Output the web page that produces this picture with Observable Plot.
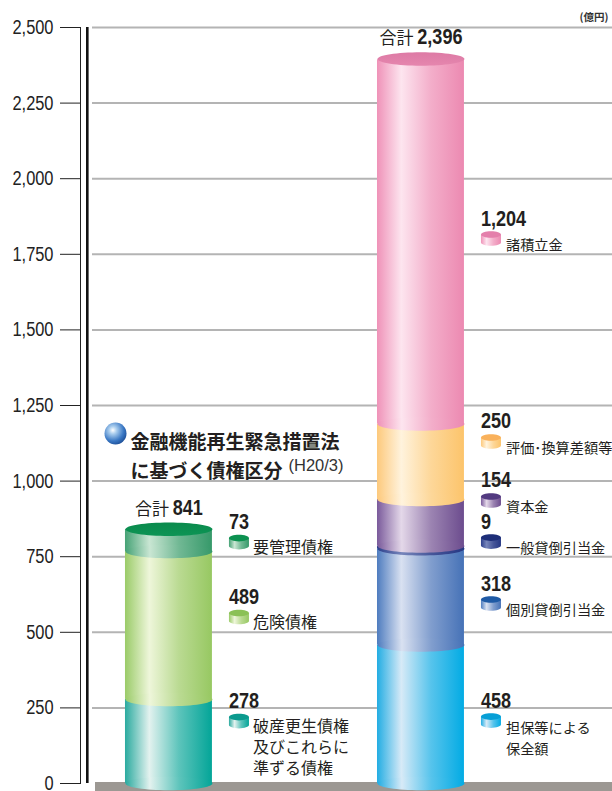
<!DOCTYPE html>
<html><head><meta charset="utf-8">
<script src="https://cdn.jsdelivr.net/npm/d3@7"></script>
<script src="https://cdn.jsdelivr.net/npm/@observablehq/plot@0.6"></script>
<style>html,body{margin:0;padding:0;background:#fff;} #chart svg{display:block;}</style>
</head><body><div id="chart"></div>
<script>
// ---------------- DATA ----------------
const groups = ["金融機能再生法開示債権", "保全額"];
const totals = [841, 2396];

const debtCategories = ["破産更生債権及びこれらに準ずる債権", "危険債権", "要管理債権"];
const debtLabels = ["破産更生債権\n及びこれらに\n準ずる債権", "危険債権", "要管理債権"];
const debtValues = [278, 489, 73];

const coverCategories = ["担保等による保全額", "個別貸倒引当金", "一般貸倒引当金", "資本金", "評価･換算差額等", "諸積立金"];
const coverLabels = ["担保等による\n保全額", "個別貸倒引当金", "一般貸倒引当金", "資本金", "評価･換算差額等", "諸積立金"];
const coverValues = [458, 318, 9, 154, 250, 1204];

const yTicks = [0, 250, 500, 750, 1000, 1250, 1500, 1750, 2000, 2250, 2500];

const titleText = "金融機能再生緊急措置法\nに基づく債権区分";
const titleNote = "(H20/3)";
const unitText = "(億円)";
const totalPrefix = "合計";

// label anchors (value level where each value label sits)
const debtLabelAt = [251, 595, 843];
const coverLabelAt = [251, 638, 843, 979, 1174, 1845];

// ---------------- STYLE ----------------
const debtColors = [
  {edge: "#2aaa9f", hi: "#e3f2ef", right: "#03a598", top: "#0b9a8e"},
  {edge: "#9acb68", hi: "#eef6da", right: "#97c862", top: "#8bc156"},
  {edge: "#45a275", hi: "#c9e6d3", right: "#36996a", top: "#0c9150"}
];
const coverColors = [
  {edge: "#22ade3", hi: "#d7eaf7", right: "#02abe4", top: "#079fd6"},
  {edge: "#4e7cbf", hi: "#d9e1f1", right: "#4672b7", top: "#1f5aa5"},
  {edge: "#2c3f8c", hi: "#7786bb", right: "#253683", top: "#1d2e78"},
  {edge: "#7a5a9b", hi: "#e4d8e9", right: "#6c4c8e", top: "#523a80"},
  {edge: "#fdc97c", hi: "#fff3dd", right: "#fcc46b", top: "#f9b15b"},
  {edge: "#ef92b8", hi: "#fde5ef", right: "#ec89b1", top: "#e47fab"}
];
const topColors = [{a: "#0d9455", b: "#0a8a4c"}, {a: "#e586ae", b: "#dd7aa5"}];

const numFont = "'Liberation Sans',Arial,Helvetica,sans-serif";
const jpFont = "'Noto Sans CJK JP','Noto Sans CJK SC',sans-serif";
const ink = "#231f20";
const narrow = 0.82; // horizontal squeeze to mimic a condensed face

const width = 612, height = 791;
const marginTop = 27, marginBottom = 8, marginLeft = 80, marginRight = 0;
const paddingInner = 0.655, paddingOuter = 0.383, align = 0.233;
const step = (width - marginLeft - marginRight) / (groups.length - paddingInner + 2 * paddingOuter);
const bandwidth = step * (1 - paddingInner);
const rx = bandwidth / 2;

// ---------------- helpers ----------------
const K = 0.5522847498;
function ellipsePath(ctx, a, b, cy) {
  ctx.moveTo(-a, cy);
  ctx.bezierCurveTo(-a, cy - b * K, -a * K, cy - b, 0, cy - b);
  ctx.bezierCurveTo(a * K, cy - b, a, cy - b * K, a, cy);
  ctx.bezierCurveTo(a, cy + b * K, a * K, cy + b, 0, cy + b);
  ctx.bezierCurveTo(-a * K, cy + b, -a, cy + b * K, -a, cy);
  ctx.closePath();
}
const makeEllipse = (ratio) => ({draw(ctx, size) { const a = Math.sqrt(size / Math.PI); ellipsePath(ctx, a, a * ratio, 0); }});
const cylEllipse = makeEllipse(0.155);
const iconRatio = 0.33, iconBodyRatio = 0.8;
const iconTop = makeEllipse(iconRatio);
const iconBody = {draw(ctx, size) {
  const a = Math.sqrt(size / Math.PI), b = a * iconRatio, h = a * iconBodyRatio;
  ctx.moveTo(-a, -h / 2);
  ctx.lineTo(-a, h / 2);
  ctx.bezierCurveTo(-a, h / 2 + b * K, -a * K, h / 2 + b, 0, h / 2 + b);
  ctx.bezierCurveTo(a * K, h / 2 + b, a, h / 2 + b * K, a, h / 2);
  ctx.lineTo(a, -h / 2);
  ctx.closePath();
}};

function stack(group, cats, vals, labels, labelAt, colors, prefix) {
  let acc = 0;
  return cats.map((c, i) => {
    const s = {group, category: c, label: labels[i], value: vals[i], y1: acc, y2: acc + vals[i],
      at: labelAt[i], id: `${prefix}${i}`, color: colors[i]};
    acc += vals[i];
    return s;
  });
}
const debtSegs = stack(groups[0], debtCategories, debtValues, debtLabels, debtLabelAt, debtColors, "gd");
const coverSegs = stack(groups[1], coverCategories, coverValues, coverLabels, coverLabelAt, coverColors, "gc");
const allSegs = [...debtSegs, ...coverSegs];
const totalData = groups.map((g, i) => ({group: g, total: totals[i], id: `gt${i}`}));
const fmt = d3.format(",");

function cylinderMarks(segs) {
  return segs.flatMap(s => [
    Plot.barY([s], {x: "group", y1: "y1", y2: "y2", fill: `url(#${s.id})`}),
    Plot.dot([s], {x: "group", y: "y1", r: rx, symbol: cylEllipse, fill: `url(#${s.id})`})
  ]);
}
function iconMarks(segs, dy, r) {
  return segs.flatMap(s => [
    Plot.dot([s], {x: "group", y: "at", dx: 70, dy, r, symbol: iconBody, fill: `url(#${s.id})`}),
    Plot.dot([s], {x: "group", y: "at", dx: 70, dy: dy - r * iconBodyRatio / 2, r, symbol: iconTop, fill: s.color.top})
  ]);
}

const floorMark = (index, scales, values, dims) => {
  const y0 = scales.y ? scales.y(0) : dims.height - dims.marginBottom;
  return d3.create("svg:rect")
    .attr("x", dims.marginLeft + 15).attr("y", y0 - 1)
    .attr("width", dims.width - dims.marginLeft - 15).attr("height", dims.height - y0 + 1)
    .attr("fill", "#9c9893").node();
};
const spineMark = (index, scales, values, dims) => {
  const yTop = scales.y(yTicks[yTicks.length - 1]), yBot = scales.y(0);
  return d3.create("svg:rect")
    .attr("x", dims.marginLeft + 6).attr("y", yTop)
    .attr("width", 2.6).attr("height", yBot - yTop)
    .attr("fill", "#111").node();
};

const chart = Plot.plot({
  width, height, marginTop, marginBottom, marginLeft, marginRight,
  style: {fontFamily: numFont, fontSize: "20px", color: "#222", background: "#fff", overflow: "visible"},
  x: {domain: groups, axis: null, paddingInner, paddingOuter, align, round: false},
  y: {domain: [0, 2500], ticks: yTicks, tickFormat: fmt, tickSize: 20, tickPadding: 7, line: true, label: null},
  marks: [
    floorMark,
    Plot.ruleY(yTicks.filter(t => t > 0), {stroke: "#b4b4b4", strokeWidth: 2, insetLeft: 12}),
    spineMark,
    ...cylinderMarks(debtSegs),
    Plot.dot([totalData[0]], {x: "group", y: "total", r: rx, symbol: cylEllipse, fill: "url(#gt0)"}),
    ...cylinderMarks(coverSegs),
    Plot.dot([totalData[1]], {x: "group", y: "total", r: rx, symbol: cylEllipse, fill: "url(#gt1)"}),
    // totals
    Plot.text(totalData, {x: "group", y: "total", text: d => `${totalPrefix} ${fmt(d.total)}`, dy: -14.5,
      lineAnchor: "bottom", textAnchor: "middle", fill: ink, fontSize: 17, fontFamily: jpFont}),
    // value labels
    Plot.text(allSegs, {x: "group", y: "at", text: d => fmt(d.value), dx: 60, textAnchor: "start",
      lineAnchor: "bottom", fontWeight: "bold", fontSize: 22, fill: ink, fontFamily: numFont}),
    ...iconMarks(debtSegs, 13.5, 10),
    ...iconMarks(coverSegs, 13, 10),
    Plot.text(debtSegs, {x: "group", y: "at", text: "label", dx: 84, dy: 10, textAnchor: "start",
      lineAnchor: "top", fontSize: 16, lineHeight: 1.29, fill: ink, fontFamily: jpFont}),
    Plot.text(coverSegs, {x: "group", y: "at", text: "label", dx: 85, dy: 10, textAnchor: "start",
      lineAnchor: "top", fontSize: 14.2, lineHeight: 1.48, fill: ink, fontFamily: jpFont}),
    // title
    Plot.dot([titleText], {frameAnchor: "top-left", dx: 35, dy: 406, r: 11, fill: "url(#sphere)"}),
    Plot.text([titleText], {frameAnchor: "top-left", dx: 50, dy: 401, text: d => d, textAnchor: "start",
      lineAnchor: "top", fontSize: 19, lineHeight: 1.53, fontWeight: "bold", fill: ink, fontFamily: jpFont}),
    Plot.text([titleNote], {frameAnchor: "top-left", dx: 208, dy: 438, text: d => d, textAnchor: "start",
      lineAnchor: "middle", fontSize: 16.5, fill: "#333", fontFamily: numFont}),
    Plot.text([unitText], {frameAnchor: "top-right", dx: -4, dy: -10, text: d => d, textAnchor: "end",
      lineAnchor: "middle", fontSize: 10.5, fontWeight: "bold", fill: "#333", fontFamily: jpFont})
  ]
});

// gradients
const svg = d3.select(chart);
const defs = svg.insert("defs", ":first-child");
for (const s of allSegs) {
  const g = defs.append("linearGradient").attr("id", s.id).attr("x1", 0).attr("x2", 1).attr("y1", 0).attr("y2", 0);
  g.append("stop").attr("offset", 0).attr("stop-color", s.color.edge);
  g.append("stop").attr("offset", 0.28).attr("stop-color", s.color.hi);
  g.append("stop").attr("offset", 0.62).attr("stop-color", d3.interpolateRgb(s.color.hi, s.color.right)(0.6));
  g.append("stop").attr("offset", 1).attr("stop-color", s.color.right);
}
topColors.forEach((c, i) => {
  const g = defs.append("linearGradient").attr("id", `gt${i}`).attr("x1", 0).attr("x2", 0).attr("y1", 0).attr("y2", 1);
  g.append("stop").attr("offset", 0).attr("stop-color", c.b);
  g.append("stop").attr("offset", 1).attr("stop-color", c.a);
});
const sph = defs.append("radialGradient").attr("id", "sphere").attr("cx", 0.38).attr("cy", 0.35).attr("r", 0.7);
sph.append("stop").attr("offset", 0).attr("stop-color", "#ffffff");
sph.append("stop").attr("offset", 0.25).attr("stop-color", "#a9cdee");
sph.append("stop").attr("offset", 0.7).attr("stop-color", "#3a78c4");
sph.append("stop").attr("offset", 1).attr("stop-color", "#1c4d96");

// split "合計 841" into styled tspans
svg.selectAll("text").each(function() {
  const t = this.textContent;
  if (t.startsWith(totalPrefix + " ") && this.children.length === 0) {
    const num = t.slice(totalPrefix.length + 1);
    this.textContent = "";
    const el = d3.select(this);
    el.append("tspan").text(totalPrefix + " ");
    el.append("tspan").attr("class", "num").attr("font-family", numFont).attr("font-weight", "bold").attr("font-size", 22).text(num);
  }
});

document.getElementById("chart").appendChild(chart);

// condense numeric texts (tick labels, values) horizontally
svg.selectAll("text").each(function() {
  if (this.children.length === 0 && /^[\d,]+$/.test(this.textContent.trim())) {
    const len = this.getComputedTextLength();
    if (len > 0) { this.setAttribute("textLength", (len * narrow).toFixed(2)); this.setAttribute("lengthAdjust", "spacingAndGlyphs"); }
  }
});
svg.selectAll("tspan.num").each(function() {
  const len = this.getComputedTextLength();
  if (len > 0) { this.setAttribute("textLength", (len * narrow).toFixed(2)); this.setAttribute("lengthAdjust", "spacingAndGlyphs"); }
});
</script>
</body></html>
